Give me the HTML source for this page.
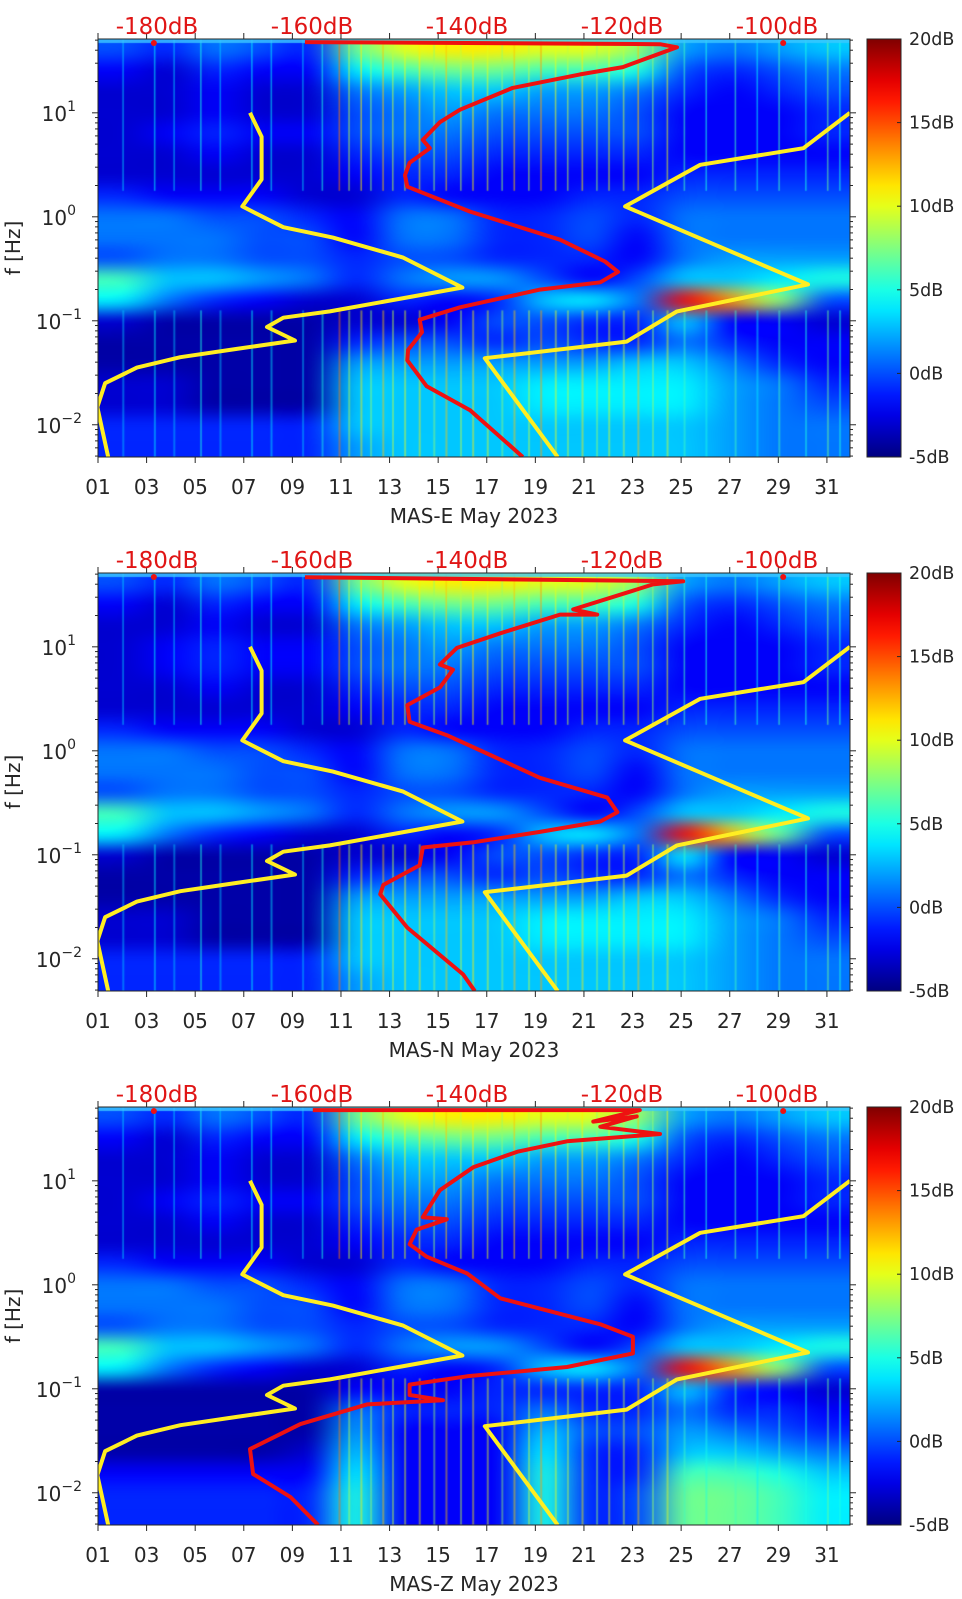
<!DOCTYPE html>
<html><head><meta charset="utf-8"><style>
html,body{margin:0;padding:0;background:#fff;}
#root{position:relative;width:962px;height:1599px;overflow:hidden;background:#fff;}
canvas{position:absolute;}
svg{position:absolute;left:0;top:0;}
text{font-family:"DejaVu Sans","Liberation Sans",sans-serif;}
</style></head>
<body>
<div id="root"></div>
<script>
// ---------- data ----------
const panelNames = ["MAS-E May 2023","MAS-N May 2023","MAS-Z May 2023"];
const dayTicks = [1,3,5,7,9,11,13,15,17,19,21,23,25,27,29,31];
const dbTicks = [-180,-160,-140,-120,-100];
const decadeTicks = [1,0,-1,-2];
const cbTicks = [20,15,10,5,0,-5];

// yellow noise models (dB, log10 Hz)
const nlnmDb = [-186.3,-187.7,-186.7,-182.6,-177.0,-169.7,-162.2,-165.8,-163.7,-157.7,-140.6,-148.3,-157.3,-163.7,-169.0,-166.5,-166.5,-168.0];
const nlnmLf = [-2.31,-1.83,-1.60,-1.45,-1.35,-1.27,-1.19,-1.06,-0.97,-0.91,-0.68,-0.39,-0.20,-0.10,0.10,0.36,0.77,1.00];
const nhnmDb = [-128.3,-137.7,-119.4,-112.9,-96.0,-119.6,-109.9,-96.6,-90.6];
const nhnmLf = [-2.31,-1.36,-1.20,-0.91,-0.65,0.10,0.50,0.66,1.00];

// red median PSD per component
const redEDb = [-160.9,-115.1,-112.9,-119.9,-125.4,-134.1,-140.9,-143.5,-145.7,-144.8,-147.4,-148.0,-147.7,-139.6,-128.0,-122.2,-120.5,-122.8,-130.6,-140.9,-146.1,-145.8,-147.6,-147.7,-145.2,-139.6,-132.8];
const redELf = [1.68,1.66,1.63,1.44,1.37,1.24,1.03,0.91,0.74,0.66,0.52,0.40,0.29,0.05,-0.22,-0.43,-0.53,-0.63,-0.70,-0.87,-0.99,-1.11,-1.28,-1.38,-1.63,-1.86,-2.31];
const redNDb = [-160.9,-112.1,-116.0,-126.3,-123.2,-128.0,-135.7,-141.3,-143.5,-141.8,-143.5,-147.7,-147.4,-142.6,-137.0,-130.6,-121.9,-120.6,-122.8,-130.6,-139.2,-145.7,-146.1,-150.8,-151.2,-147.7,-140.5,-139.0];
const redNLf = [1.67,1.63,1.60,1.36,1.31,1.31,1.13,0.99,0.83,0.78,0.61,0.44,0.28,0.15,-0.04,-0.26,-0.45,-0.59,-0.68,-0.78,-0.88,-0.93,-1.10,-1.29,-1.38,-1.70,-2.15,-2.31];
const redZDb = [-159.9,-117.7,-123.7,-118.1,-122.8,-115.1,-127.1,-133.5,-139.2,-143.5,-145.7,-142.6,-146.5,-147.4,-145.2,-140.0,-135.7,-122.8,-118.6,-118.6,-127.1,-140.0,-147.4,-147.4,-143.1,-152.9,-161.5,-168.0,-167.6,-162.8,-159.2];
const redZLf = [1.68,1.68,1.57,1.62,1.52,1.45,1.38,1.28,1.13,0.91,0.65,0.63,0.53,0.39,0.27,0.11,-0.13,-0.38,-0.50,-0.66,-0.79,-0.88,-0.96,-1.06,-1.11,-1.15,-1.34,-1.58,-1.82,-2.04,-2.31];

// transient events (vertical stripes): day and level (dB)
const stripeDays = [2.0,3.3,4.1,5.2,6.0,7.3,8.1,9.4,10.2,10.9,11.3,11.8,12.2,12.7,13.1,13.6,14.2,14.8,15.3,15.9,16.4,17.0,17.6,18.1,18.7,19.2,19.8,20.3,20.9,21.5,22.0,22.6,23.2,23.8,24.4,25.1,26.0,27.2,28.1,29.0,30.1,31.0,31.5];
const stripeLevel = [3,4,3,5,3,4,4,3,5,14,9,11,8,12,9,10,11,8,12,9,11,10,8,12,9,13,10,9,11,8,10,9,12,8,10,6,5,6,4,6,5,7,5];

// spectrogram levels (dB): 20 frequency rows (top->bottom) x 16 two-day slots
const specE = [
[0,-1,1,0,-1,7,10,11,11,10,10,8,2,1,2,3],
[-2,-3,-1,-2,-2,4,6,7,7,6,6,5,0,-1,0,1],
[-3,-3,-2,-3,-3,1,2,3,3,2,2,1,-1,-2,-1,0],
[-3,-3,-2,-3,-3,0,1,2,1,1,1,0,-2,-2,-2,-1],
[-3,-2,-1,-2,-2,0,1,1,0,0,0,0,-2,-2,-2,-1],
[-3,-3,-2,-3,-3,-1,0,0,-1,-1,-1,-1,-2,-2,-2,-2],
[-3,-3,-3,-3,-3,-2,-1,-1,-2,-2,-2,-2,-1,-1,-1,-1],
[-1,-2,-2,-2,-3,-3,-1,-2,-2,-2,-1,-1,0,0,0,0],
[1,1,0,0,-1,-2,1,1,-1,-1,0,-1,1,1,1,1],
[1,1,1,0,0,-2,1,1,-1,-1,0,-2,1,1,1,1],
[0,1,1,0,0,-1,0,0,-1,-1,-1,-2,1,2,2,2],
[6,3,3,2,1,-1,1,2,2,0,-2,0,3,3,4,5],
[4,1,-1,-2,-3,-3,-1,-2,-1,3,4,1,17,13,8,0],
[-3,-4,-4,-4,-4,-3,-3,-2,0,0,-1,-1,3,-2,-2,-3],
[-4,-4,-4,-4,-4,-1,0,0,-1,0,-1,-1,1,-1,-2,-2],
[-4,-4,-4,-4,-4,2,2,2,2,2,2,3,3,1,-1,-2],
[-3,-3,-4,-4,-4,3,3,3,3,4,4,4,4,2,1,-1],
[-3,-3,-4,-4,-4,3,3,3,3,4,4,4,4,2,1,0],
[-1,-1,-1,-1,-1,3,3,3,3,3,3,3,3,2,1,1],
[-1,-1,-1,-1,-1,2,3,3,3,3,3,3,3,2,1,1]];
const specN = [
[0,-1,1,0,-1,7,10,11,11,10,10,8,2,1,2,3],
[-2,-3,-1,-2,-2,4,6,7,7,6,6,5,0,-1,0,1],
[-3,-3,-2,-3,-3,1,2,3,3,2,2,1,-1,-2,-1,0],
[-3,-2,-1,-2,-2,0,1,2,1,1,1,0,-2,-2,-2,-1],
[-3,-2,-1,-2,-2,0,1,1,0,0,0,0,-2,-2,-2,-1],
[-3,-3,-2,-3,-3,-1,0,0,-1,-1,-1,-1,-2,-2,-2,-2],
[-3,-3,-3,-3,-3,-2,-1,-1,-2,-2,-2,-2,-1,-1,-1,-1],
[-1,-2,-2,-2,-3,-3,-1,-2,-2,-2,-1,-1,0,0,0,0],
[1,1,0,0,-1,-2,1,1,-1,-1,0,-1,1,1,1,1],
[1,1,1,0,0,-2,1,1,-1,-1,0,-2,1,1,1,1],
[0,1,1,0,0,-1,0,0,-1,-1,-1,-2,1,2,2,2],
[6,3,3,2,1,-1,1,2,2,0,-2,0,3,3,4,5],
[4,1,-1,-2,-3,-3,-1,-2,-1,3,4,1,17,12,7,0],
[-3,-4,-4,-4,-4,-3,-3,-2,0,0,-1,-1,4,-2,-2,-3],
[-4,-4,-4,-4,-4,-1,0,0,-1,0,-1,-1,1,-1,-2,-2],
[-4,-4,-4,-4,-4,2,2,2,2,2,2,3,3,1,-1,-2],
[-3,-3,-4,-4,-4,3,3,3,3,4,4,4,4,2,1,-1],
[-3,-3,-4,-4,-4,3,3,3,3,4,4,4,4,2,1,0],
[-1,-1,-1,-1,-1,3,3,3,3,3,3,3,3,2,1,1],
[-1,-1,-1,-1,-1,2,3,3,3,3,3,3,3,2,1,1]];
const specZ = [
[0,-1,1,0,-1,7,10,11,11,10,10,8,2,1,2,3],
[-2,-3,-1,-2,-2,4,6,7,7,6,6,5,0,-1,0,1],
[-3,-3,-2,-3,-3,1,3,3,3,2,2,1,-1,-2,-1,0],
[-3,-3,-2,-3,-3,0,2,2,1,1,1,0,-2,-2,-2,-1],
[-3,-2,-1,-2,-2,0,1,1,0,0,0,0,-2,-2,-2,-1],
[-3,-3,-2,-3,-3,-1,0,0,-1,-1,-1,-1,-2,-2,-2,-2],
[-3,-3,-3,-3,-3,-2,-1,-1,-2,-2,-2,-2,-1,-1,-1,-1],
[-1,-2,-2,-2,-3,-3,-1,-2,-2,-2,-1,-1,0,0,0,0],
[1,1,0,0,-1,-2,1,1,-1,-1,0,-1,1,1,1,1],
[1,1,1,0,0,-2,1,1,-1,-1,0,-2,1,1,1,1],
[0,1,1,0,0,-1,0,0,-1,-1,-1,-2,1,2,2,2],
[6,3,3,2,1,-1,1,2,2,0,-2,0,3,3,4,5],
[4,1,-1,-2,-3,-3,-1,-2,-1,3,4,1,17,13,8,0],
[-4,-4,-4,-4,-4,-2,-2,-2,-1,-1,-1,-1,3,-1,-2,-3],
[-4,-4,-4,-4,-4,1,-1,-1,-1,1,-1,-1,1,-1,-1,-2],
[-4,-4,-4,-4,-4,2,-2,-2,-2,3,0,0,2,1,0,-1],
[-4,-4,-4,-4,-3,3,-2,-2,-2,4,-1,-1,3,3,2,1],
[-2,-2,-2,-2,-2,4,-2,-2,-2,5,-1,-1,6,6,5,3],
[-1,-1,-1,-1,-1,5,-2,-2,-2,5,-1,0,7,7,6,4],
[-1,-1,-1,-1,-1,5,-2,-2,-2,5,-1,0,7,7,6,4]];

// ---------- layout / axes ----------
const NS = "http://www.w3.org/2000/svg";
const PX0 = 98, PX1 = 850, PH = 418;
const panelTops = [39, 573, 1107];
const LF_TOP = 1.71, LF_BOT = -2.31;
const dayX = d => PX0 + (d - 1) * (PX1 - PX0) / 30.95;
const dbX = db => 312 + (db + 160) * 7.75;
const lfY = (top, lf) => top + (LF_TOP - lf) / (LF_TOP - LF_BOT) * PH;
const CB_X = 867, CB_W = 34;
const cbY = (top, v) => top + (20 - v) / 25 * PH;

function jet(v){
  const t = Math.max(0, Math.min(1, (v + 5) / 25));
  const c = x => Math.round(255 * Math.max(0, Math.min(1, 1.5 - Math.abs(x))));
  return [c(4*t-3), c(4*t-2), c(4*t-1)];
}

const root = document.getElementById('root');
const svg = document.createElementNS(NS, 'svg');
svg.setAttribute('width', 962); svg.setAttribute('height', 1599);



function el(tag, attrs, parent){
  const e = document.createElementNS(NS, tag);
  for (const k in attrs) e.setAttribute(k, attrs[k]);
  (parent || svg).appendChild(e);
  return e;
}

const defs = el('defs', {});
const grad = el('linearGradient', {id:'jetgrad', x1:0, y1:1, x2:0, y2:0}, defs);
for (let i = 0; i <= 20; i++){
  const v = -5 + 25 * i / 20, c = jet(v);
  el('stop', {offset: (i/20), 'stop-color': `rgb(${c[0]},${c[1]},${c[2]})`}, grad);
}

const specs = [specE, specN, specZ];
const reds = [[redEDb, redELf], [redNDb, redNLf], [redZDb, redZLf]];
const keys = ['e','n','z'];

panelTops.forEach((top, p) => {
  const key = keys[p];
  const spec = specs[p];
  const rows = spec.length, cols = spec[0].length;
  const off = document.createElement('canvas');
  off.width = cols; off.height = rows;
  const octx = off.getContext('2d');
  const img = octx.createImageData(cols, rows);
  for (let r = 0; r < rows; r++) for (let c = 0; c < cols; c++){
    const col = jet(spec[r][c]); const i = (r*cols + c) * 4;
    img.data[i]=col[0]; img.data[i+1]=col[1]; img.data[i+2]=col[2]; img.data[i+3]=255;
  }
  octx.putImageData(img, 0, 0);
  const cv = document.createElement('canvas');
  
  
  const x0 = Math.round(dayX(1)), x1 = PX1;
  const y0 = Math.round(lfY(top, LF_TOP)), y1 = Math.round(lfY(top, LF_BOT));
  cv.width = x1 - x0; cv.height = y1 - y0;
  cv.style.left = x0 + 'px'; cv.style.top = y0 + 'px';
  const ctx = cv.getContext('2d');
  ctx.imageSmoothingEnabled = true; ctx.imageSmoothingQuality = 'high';
  ctx.drawImage(off, 0, 0, cv.width, cv.height);
  // transient stripes
  stripeDays.forEach((d, i) => {
    const c = jet(stripeLevel[i]);
    const sx = dayX(d) - x0;
    ctx.fillStyle = `rgba(${c[0]},${c[1]},${c[2]},0.55)`;
    const yA = lfY(top, LF_TOP) - y0, yB = lfY(top, 0.25) - y0;
    ctx.fillRect(sx, yA, 1.6, yB - yA);
    if (d > 10.5 || p !== 2) {
      const yC = lfY(top, -0.9) - y0;
      ctx.fillStyle = `rgba(${c[0]},${c[1]},${c[2]},0.45)`;
      ctx.fillRect(sx, yC, 2, cv.height - yC);
    }
  });
  ctx.fillStyle = 'rgba(60,200,255,0.8)'; ctx.fillRect(0, 0, cv.width, 4);
  root.appendChild(cv);

  const g = el('g', {});
  
  
  const clipId = 'clip' + p;
  const cp = el('clipPath', {id: clipId}, defs);
  el('rect', {x: PX0, y: top, width: PX1 - PX0, height: PH}, cp);

  const mk = (dbArr, lfArr) => dbArr.map((d, i) => dbX(d).toFixed(1) + ',' + lfY(top, lfArr[i]).toFixed(1)).join(' ');
  const lg = el('g', {'clip-path': `url(#${clipId})`}, g);
  const l1 = el('polyline', {points: mk(nlnmDb, nlnmLf), fill:'none', stroke:'#ffee22', 'stroke-width':4, 'stroke-linejoin':'round'}, lg);
  
  
  const l2 = el('polyline', {points: mk(nhnmDb, nhnmLf), fill:'none', stroke:'#ffee22', 'stroke-width':4, 'stroke-linejoin':'round'}, lg);
  
  
  const l3 = el('polyline', {points: mk(reds[p][0], reds[p][1]), fill:'none', stroke:'#ee1111', 'stroke-width':4, 'stroke-linejoin':'round'}, lg);
  
  
  el('circle', {cx: dayX(3.3), cy: top + 4, r: 3, fill:'#ee1111'}, lg);
  el('circle', {cx: dayX(29.2), cy: top + 4, r: 3, fill:'#ee1111'}, lg);

  el('rect', {x: PX0, y: top, width: PX1 - PX0, height: PH, fill:'none', stroke:'#262626', 'stroke-width':1}, g);

  dayTicks.forEach(d => {
    const x = dayX(d);
    el('line', {x1:x, y1:top+PH, x2:x, y2:top+PH+6, stroke:'#262626'}, g);
    el('line', {x1:x, y1:top, x2:x, y2:top-6, stroke:'#262626'}, g);
    const t = el('text', {x:x, y:top+PH+37, 'font-size':20, 'text-anchor':'middle', fill:'#262626'}, g);
    t.textContent = String(d).padStart(2, '0');
    
    
  });
  dbTicks.forEach(db => {
    const t = el('text', {x:dbX(db), y:top-5, 'font-size':23, 'text-anchor':'middle', fill:'#e01515'}, g);
    t.textContent = db + 'dB';
    
    
  });
  for (let dec = -3; dec <= 1; dec++){
    for (let m = 1; m <= 9; m++){
      const lf = dec + Math.log10(m);
      if (lf < LF_BOT || lf > LF_TOP) continue;
      const y = lfY(top, lf), len = m === 1 ? 6 : 3;
      el('line', {x1:PX0, y1:y, x2:PX0-len, y2:y, stroke:'#262626'}, g);
      el('line', {x1:PX1, y1:y, x2:PX1+len, y2:y, stroke:'#262626'}, g);
    }
  }
  decadeTicks.forEach(dec => {
    const y = lfY(top, dec);
    const t = el('text', {x:dec < 0 ? 82 : 76, y:y+8, 'font-size':20, 'text-anchor':'end', fill:'#262626'}, g);
    
    
    const a = el('tspan', {}, t); a.textContent = '10';
    const b = el('tspan', {dy:-10, 'font-size':14}, t); b.textContent = String(dec).replace('-', '\u2212');
  });
  const xl = el('text', {x:(PX0+PX1)/2, y:top+PH+66, 'font-size':20, 'text-anchor':'middle', fill:'#262626'}, g);
  xl.textContent = panelNames[p];
  
  
  const yl = el('text', {x:0, y:0, 'font-size':20, 'text-anchor':'middle', fill:'#262626', transform:`translate(20,${top+PH/2}) rotate(-90)`}, g);
  yl.textContent = 'f [Hz]';
  
  

  const cb = el('rect', {x:CB_X, y:top, width:CB_W, height:PH, fill:'url(#jetgrad)', stroke:'#262626', 'stroke-width':1}, g);
  
  
  cbTicks.forEach(v => {
    const y = cbY(top, v);
    el('line', {x1:CB_X+CB_W, y1:y, x2:CB_X+CB_W-4, y2:y, stroke:'#262626'}, g);
    const t = el('text', {x:909, y:y+6, 'font-size':17.5, fill:'#262626'}, g);
    t.textContent = v + 'dB';
    
    
  });
});
root.appendChild(svg);
</script>
</body></html>
